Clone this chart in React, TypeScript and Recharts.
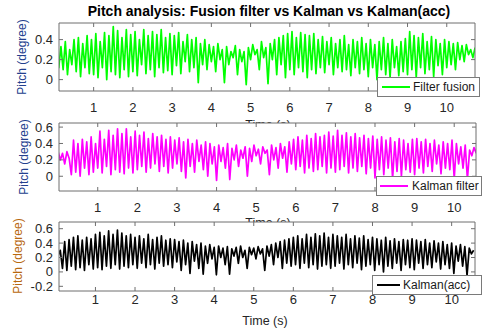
import React from 'react';
import { LineChart, Line, XAxis, YAxis } from 'recharts';

// samples per second of the recorded signals
const SAMPLE_RATE = 18;

const X_TICKS = [1, 2, 3, 4, 5, 6, 7, 8, 9, 10];

const FUSION = [
  0.22, 0.30, 0.12, 0.33, 0.10, 0.38, 0.05, 0.30, 0.15, 0.40, 0.08, 0.42, 0.03, 0.36, 0.12, 0.44, 0.06, 0.40,
  0.05, 0.46, 0.02, 0.38, 0.12, 0.47, 0.00, 0.44, 0.08, 0.53, 0.05, 0.49, 0.02, 0.42, 0.10, 0.50, 0.03, 0.45,
  0.08, 0.48, 0.04, 0.40, 0.15, 0.50, 0.06, 0.44, 0.10, 0.48, 0.03, 0.45, 0.12, 0.50, 0.07, 0.42, 0.09, 0.46,
  0.05, 0.44, 0.14, 0.47, 0.06, 0.38, 0.18, 0.45, 0.08, 0.40, 0.12, 0.42, -0.03, 0.36, 0.15, 0.40, 0.10, 0.35,
  0.18, 0.33, 0.08, 0.36, 0.20, 0.30, -0.03, 0.33, 0.15, 0.28, 0.22, 0.34, 0.05, 0.30, 0.18, 0.28, -0.05, 0.32,
  0.20, 0.35, 0.25, 0.30, 0.10, 0.38, 0.22, 0.32, -0.04, 0.36, 0.20, 0.40, 0.05, 0.42, 0.15, 0.44, 0.02, 0.46,
  0.10, 0.48, 0.05, 0.42, 0.12, 0.47, 0.08, 0.45, 0.02, 0.44, 0.10, 0.46, 0.06, 0.40, 0.12, 0.43, 0.07, 0.38,
  0.15, 0.42, 0.05, 0.36, 0.12, 0.40, 0.08, 0.44, 0.10, 0.35, 0.04, 0.40, 0.12, 0.38, 0.06, 0.42, 0.10, 0.36,
  0.03, 0.40, 0.12, 0.35, 0.00, 0.38, 0.10, 0.42, 0.05, 0.36, 0.02, 0.40, 0.12, 0.33, 0.04, 0.38, 0.08, 0.41,
  0.05, 0.48, 0.10, 0.44, 0.02, 0.42, 0.12, 0.46, 0.06, 0.38, 0.10, 0.43, 0.03, 0.40, 0.14, 0.36, 0.05, 0.40,
  0.12, 0.38, 0.15, 0.36, 0.10, 0.37, 0.20, 0.34, 0.18, 0.35, 0.25, 0.30, 0.22, 0.32,
];

const KALMAN = [
  0.30, 0.20, 0.28, 0.15, 0.30, 0.22, 0.02, 0.44, 0.05, 0.40, 0.00, 0.45, 0.10, 0.42, 0.02, 0.48, 0.05, 0.40,
  0.10, 0.55, 0.04, 0.45, 0.12, 0.56, 0.02, 0.50, 0.08, 0.58, 0.05, 0.52, 0.03, 0.58, 0.10, 0.48, 0.04, 0.55,
  0.08, 0.50, 0.12, 0.54, 0.05, 0.46, 0.10, 0.52, 0.15, 0.48, 0.06, 0.50, 0.12, 0.45, 0.04, 0.48, 0.10, 0.44,
  0.15, 0.47, 0.06, 0.42, -0.02, 0.45, 0.12, 0.40, 0.05, 0.44, 0.18, 0.38, 0.08, 0.42, 0.00, 0.40, 0.15, 0.36,
  -0.05, 0.38, 0.18, 0.35, 0.10, 0.40, -0.04, 0.34, 0.20, 0.38, 0.12, 0.32, 0.22, 0.36, 0.00, 0.34, 0.18, 0.38,
  0.25, 0.33, 0.15, 0.36, 0.28, 0.32, 0.02, 0.38, 0.20, 0.35, 0.10, 0.40, 0.22, 0.36, 0.05, 0.42, 0.15, 0.45,
  0.08, 0.48, 0.12, 0.44, 0.04, 0.50, 0.10, 0.46, 0.06, 0.52, 0.08, 0.48, 0.12, 0.50, 0.04, 0.54, 0.10, 0.49,
  0.05, 0.56, 0.08, 0.50, 0.12, 0.53, 0.04, 0.48, 0.10, 0.52, 0.06, 0.47, 0.12, 0.50, 0.03, 0.46, 0.10, 0.49,
  -0.02, 0.45, 0.08, 0.48, 0.02, 0.44, 0.10, 0.47, -0.03, 0.42, 0.06, 0.46, 0.00, 0.44, 0.08, 0.40, 0.05, 0.45,
  0.02, 0.46, 0.10, 0.42, 0.04, 0.45, 0.12, 0.40, 0.06, 0.44, 0.15, 0.38, 0.03, 0.42, 0.10, 0.40, 0.08, 0.44,
  -0.03, 0.40, 0.15, 0.36, 0.10, 0.38, -0.04, 0.32, 0.25, 0.35, 0.28,
];

const KALMAN_ACC = [
  0.28, 0.22, 0.30, 0.05, 0.42, 0.02, 0.45, 0.08, 0.48, 0.03, 0.50, 0.06, 0.44, 0.02, 0.48, 0.10, 0.46, 0.04,
  0.52, 0.06, 0.55, 0.03, 0.50, 0.08, 0.57, 0.05, 0.52, 0.10, 0.58, 0.04, 0.54, 0.08, 0.50, 0.06, 0.52, 0.10,
  0.48, 0.05, 0.50, 0.12, 0.46, 0.06, 0.52, 0.10, 0.45, 0.04, 0.48, 0.12, 0.50, 0.08, 0.44, 0.10, 0.46, 0.06,
  0.45, 0.14, 0.42, 0.02, 0.44, 0.10, 0.40, -0.02, 0.42, 0.15, 0.38, 0.05, 0.40, -0.03, 0.36, 0.12, 0.38, 0.18,
  0.34, -0.04, 0.36, 0.20, 0.33, 0.10, 0.35, -0.03, 0.32, 0.22, 0.34, 0.12, 0.36, 0.20, 0.30, 0.05, 0.34, 0.24,
  0.33, 0.18, 0.35, 0.25, 0.32, 0.02, 0.36, 0.22, 0.38, 0.10, 0.40, 0.20, 0.42, 0.05, 0.44, 0.12, 0.46, 0.08,
  0.48, 0.10, 0.50, 0.05, 0.46, 0.12, 0.52, 0.06, 0.48, 0.10, 0.53, 0.04, 0.50, 0.08, 0.54, 0.10, 0.48, 0.05,
  0.52, 0.08, 0.50, 0.12, 0.48, 0.04, 0.52, 0.10, 0.46, 0.06, 0.50, 0.12, 0.47, 0.03, 0.50, 0.08, 0.45, 0.10,
  0.48, 0.02, 0.46, 0.10, 0.44, 0.00, 0.48, 0.08, 0.43, 0.05, 0.46, 0.12, 0.42, 0.02, 0.45, 0.10, 0.44, 0.06,
  0.46, 0.03, 0.44, 0.12, 0.42, 0.05, 0.45, 0.10, 0.40, 0.06, 0.43, 0.14, 0.40, 0.04, 0.42, 0.10, 0.38, 0.05,
  0.40, -0.02, 0.36, 0.15, 0.38, 0.08, 0.35, -0.05, 0.33, 0.25, 0.30,
];

const TITLE = 'Pitch analysis: Fusion filter vs Kalman vs Kalman(acc)';
const Y_LABEL = 'Pitch (degree)';
const X_LABEL = 'Time (s)';

const toRows = (vals: number[]) => vals.map((v, i) => ({ t: i / SAMPLE_RATE, v }));

const AX = '#6f6f6f';
const TXT = '#262626';
const FONT = '"Liberation Sans", Arial, Helvetica, sans-serif';
const TICK_FS = 13;

const makeBottomTick = (dy: number) => (props: any) => {
  const { x, y, payload } = props;
  return (
    <g>
      <line x1={x} x2={x} y1={y} y2={y - 4} stroke={AX} />
      <text x={x} y={y + dy} textAnchor="middle" dominantBaseline="central" fontSize={TICK_FS} fill={TXT} fontFamily={FONT}>
        {payload.value}
      </text>
    </g>
  );
};
const TopTick = (props: any) => {
  const { x, y } = props;
  return <line x1={x} x2={x} y1={y} y2={y + 4} stroke={AX} />;
};
const LeftTick = (props: any) => {
  const { x, y, payload } = props;
  return (
    <g>
      <line x1={x} x2={x + 4} y1={y} y2={y} stroke={AX} />
      <text x={x - 6} y={y} textAnchor="end" dominantBaseline="central" fontSize={TICK_FS} fill={TXT} fontFamily={FONT}>
        {payload.value}
      </text>
    </g>
  );
};
const RightTick = (props: any) => {
  const { x, y } = props;
  return <line x1={x} x2={x - 4} y1={y} y2={y} stroke={AX} />;
};

type Box = { top: number; right: number; bottom: number; left: number };
type PanelProps = {
  top: number;
  height: number;
  box: Box;
  xDomain: [number, number];
  yDomain: [number, number];
  yTicks: number[];
  values: number[];
  color: string;
  labelDy: number;
};

const Panel = ({ top, height, box, xDomain, yDomain, yTicks, values, color, labelDy }: PanelProps) => (
  <>
    <div
      style={{
        position: 'absolute',
        left: box.left,
        top: top + box.top,
        width: 485 - box.left - box.right,
        height: height - box.top - box.bottom,
        background: '#fff',
      }}
    />
    <div style={{ position: 'absolute', left: 0, top, width: 485, height }}>
      <LineChart width={485} height={height} data={toRows(values)} margin={{ top: 0, right: 0, bottom: 0, left: 0 }}>
        <XAxis
          xAxisId="b"
          dataKey="t"
          type="number"
          domain={xDomain}
          allowDataOverflow
          ticks={X_TICKS}
          interval={0}
          height={box.bottom}
          tickSize={0}
          tickMargin={0}
          tickLine={false}
          axisLine={{ stroke: AX }}
          tick={makeBottomTick(labelDy)}
        />
        <XAxis
          xAxisId="t"
          orientation="top"
          dataKey="t"
          type="number"
          domain={xDomain}
          allowDataOverflow
          ticks={X_TICKS}
          interval={0}
          height={box.top}
          tickSize={0}
          tickMargin={0}
          tickLine={false}
          axisLine={{ stroke: AX }}
          tick={TopTick}
        />
        <YAxis
          yAxisId="l"
          type="number"
          domain={yDomain}
          allowDataOverflow
          ticks={yTicks}
          interval={0}
          width={box.left}
          tickSize={0}
          tickMargin={0}
          tickLine={false}
          axisLine={{ stroke: AX }}
          tick={LeftTick}
        />
        <YAxis
          yAxisId="r"
          orientation="right"
          type="number"
          domain={yDomain}
          allowDataOverflow
          ticks={yTicks}
          interval={0}
          width={box.right}
          tickSize={0}
          tickMargin={0}
          tickLine={false}
          axisLine={{ stroke: AX }}
          tick={RightTick}
        />
        <Line
          xAxisId="b"
          yAxisId="l"
          dataKey="v"
          stroke={color}
          strokeWidth={1.7}
          dot={false}
          isAnimationActive={false}
          strokeLinejoin="round"
        />
        <Line
          xAxisId="t"
          yAxisId="r"
          dataKey="v"
          stroke="none"
          strokeWidth={0}
          dot={false}
          activeDot={false}
          legendType="none"
          isAnimationActive={false}
        />
      </LineChart>
    </div>
  </>
);

const textStyle: React.CSSProperties = {
  position: 'absolute',
  fontFamily: FONT,
  whiteSpace: 'nowrap',
  lineHeight: '13px',
};

const YLabel = ({ cx, cy, color }: { cx: number; cy: number; color: string }) => (
  <div
    style={{
      ...textStyle,
      left: cx,
      top: cy,
      fontSize: 12,
      color,
      transform: 'translate(-50%, -50%) rotate(-90deg)',
    }}
  >
    {Y_LABEL}
  </div>
);

const Legend = ({ left, top, width, lineStart, lineEnd, textLeft, color, label }: any) => (
  <div
    style={{
      position: 'absolute',
      left,
      top,
      width,
      height: 20,
      boxSizing: 'border-box',
      border: '1px solid #7a7a7a',
      background: '#fff',
      zIndex: 5,
    }}
  >
    <div style={{ position: 'absolute', left: lineStart - left - 1, top: 8, width: lineEnd - lineStart, height: 2, background: color }} />
    <div style={{ ...textStyle, left: textLeft - left - 1, top: 3, fontSize: 12, color: '#1a1a1a' }}>{label}</div>
  </div>
);

export default function App() {
  return (
    <div style={{ position: 'absolute', left: 0, top: 0, width: 485, height: 333, background: '#fff', overflow: 'hidden' }}>
      <div style={{ ...textStyle, left: 269, top: 5, transform: 'translateX(-50%)', fontSize: 14, fontWeight: 'bold', color: '#000' }}>
        {TITLE}
      </div>

      <Panel
        top={0}
        height={120}
        box={{ top: 23, right: 10, bottom: 29, left: 59 }}
        xDomain={[0.117, 10.72]}
        yDomain={[-0.114, 0.566]}
        yTicks={[0, 0.2, 0.4]}
        values={FUSION}
        color="#00ff00"
        labelDy={16.5}
      />
      <div style={{ ...textStyle, left: 268, top: 119, transform: 'translateX(-50%)', fontSize: 12.5, color: TXT }}>{X_LABEL}</div>

      <Panel
        top={110}
        height={110}
        box={{ top: 13, right: 9, bottom: 29, left: 59 }}
        xDomain={[0.022, 10.55]}
        yDomain={[-0.18, 0.65]}
        yTicks={[0, 0.2, 0.4, 0.6]}
        values={KALMAN}
        color="#ff00ff"
        labelDy={16}
      />
      <div style={{ ...textStyle, left: 268, top: 217, transform: 'translateX(-50%)', fontSize: 12.5, color: TXT }}>{X_LABEL}</div>

      <Panel
        top={210}
        height={100}
        box={{ top: 12, right: 10, bottom: 19, left: 59 }}
        xDomain={[0.079, 10.59]}
        yDomain={[-0.265, 0.693]}
        yTicks={[-0.2, 0, 0.2, 0.4, 0.6]}
        values={KALMAN_ACC}
        color="#000000"
        labelDy={8.5}
      />
      <div style={{ ...textStyle, left: 265, top: 315, transform: 'translateX(-50%)', fontSize: 12.5, color: TXT }}>{X_LABEL}</div>

      <YLabel cx={22} cy={57} color="#23408e" />
      <YLabel cx={24} cy={157} color="#23408e" />
      <YLabel cx={18} cy={256} color="#b8680f" />

      <Legend left={377} top={77} width={103} lineStart={382} lineEnd={410} textLeft={413} color="#00ff00" label="Filter fusion" />
      <Legend left={376} top={176} width={106} lineStart={380} lineEnd={408} textLeft={412} color="#ff00ff" label="Kalman filter" />
      <Legend left={372} top={275} width={110} lineStart={377} lineEnd={400} textLeft={403} color="#000000" label="Kalman(acc)" />
    </div>
  );
}
